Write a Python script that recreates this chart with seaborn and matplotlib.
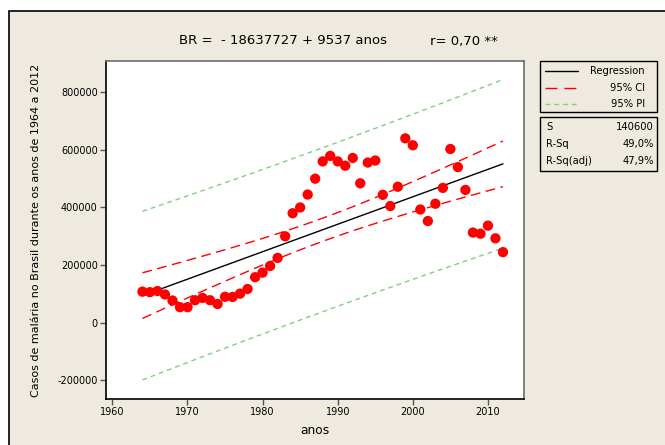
import numpy as np
import pandas as pd
import matplotlib
matplotlib.use("Agg")
import matplotlib.pyplot as plt
from matplotlib.patches import Rectangle
from matplotlib.lines import Line2D
from matplotlib import font_manager
import seaborn as sns

# ---- data ----
anos = list(range(1964, 2013))
casos = [108000, 106000, 110000, 98000, 77000, 54000, 54000, 78000, 86000, 78000,
         65000, 90000, 89500, 101000, 117000, 158000, 174000, 197000, 225000, 300000,
         380000, 400000, 445000, 500000, 560000, 579000, 560000, 545000, 572000, 484000,
         556000, 563000, 444000, 405000, 472000, 640000, 616000, 393000, 353000, 413000,
         468000, 603000, 540000, 461000, 313000, 309000, 337000, 293000, 245000]
title_left = "BR =  - 18637727 + 9537 anos"
title_right = "r= 0,70 **"
x_ticks = [1960, 1970, 1980, 1990, 2000, 2010]
y_ticks = [-200000, 0, 200000, 400000, 600000, 800000]
legend_labels = ["Regression", "95% CI", "95% PI"]
stat_names = ["S", "R-Sq", "R-Sq(adj)"]
stat_values = ["140600", "49,0%", "47,9%"]

df = pd.DataFrame({"anos": anos, "casos": casos})

# ---- regression, CI and PI computed from the data ----
x = np.array(anos, dtype=float)
y = np.array(casos, dtype=float)
n = len(x)
b1, b0 = np.polyfit(x, y, 1)
fit = b0 + b1 * x
s = np.sqrt(np.sum((y - fit) ** 2) / (n - 2))
sxx = np.sum((x - x.mean()) ** 2)
t = 2.0117
se_ci = s * np.sqrt(1 / n + (x - x.mean()) ** 2 / sxx)
se_pi = s * np.sqrt(1 + 1 / n + (x - x.mean()) ** 2 / sxx)

W, H = 665, 445
BG = "#EEEAE0"
sns.set_style("white")
plt.rcParams["font.family"] = ["DejaVu Sans"]
plt.rcParams["text.color"] = "black"
plt.rcParams["axes.labelcolor"] = "black"
plt.rcParams["xtick.color"] = "black"
plt.rcParams["ytick.color"] = "black"

names = {f.name for f in font_manager.fontManager.ttflist}
narrow = "Liberation Sans Narrow" if "Liberation Sans Narrow" in names else "DejaVu Sans"
title_size = 11 if narrow == "Liberation Sans Narrow" else 9.5

fig = plt.figure(figsize=(W / 100, H / 100), dpi=100)
fig.patch.set_facecolor("white")

def px(v):
    return v / W

def py(v):
    return 1 - v / H

# outer beige frame
fig.patches.append(Rectangle((px(9), -0.05), 1.2, py(11) + 0.05, transform=fig.transFigure,
                             facecolor=BG, edgecolor="black", lw=1.2, zorder=-5))

ax = fig.add_axes([px(106), py(399), px(524) - px(106), py(61) - py(399)])
ax.set_zorder(2)
ax.set_facecolor("white")

CI_DASH = (7, 4)
PI_DASH = (3.5, 2.8)
GREEN = "#80D080"
ax.plot(x, fit, color="black", lw=1.0, zorder=3)
ax.plot(x, fit + t * se_ci, color="#FF0000", lw=1.0, dashes=CI_DASH, zorder=3)
ax.plot(x, fit - t * se_ci, color="#FF0000", lw=1.0, dashes=CI_DASH, zorder=3)
ax.plot(x, fit + t * se_pi, color=GREEN, lw=1.0, dashes=PI_DASH, zorder=3)
ax.plot(x, fit - t * se_pi, color=GREEN, lw=1.0, dashes=PI_DASH, zorder=3)

sns.scatterplot(data=df, x="anos", y="casos", ax=ax, color="#FF0000", s=55,
                edgecolor="none", zorder=4, legend=False)

ax.set_xlim(1959.15, 2014.8)
ax.set_ylim(-264800, 908500)
ax.set_xticks(x_ticks)
ax.set_yticks(y_ticks)
ax.set_xticklabels([str(v) for v in x_ticks])
ax.set_yticklabels([str(v) for v in y_ticks])
ax.tick_params(axis="both", direction="out", length=4, width=1, color="#555555",
               labelcolor="black", labelsize=7, pad=2, left=True, bottom=True)
for side in ["left", "bottom"]:
    ax.spines[side].set_color("black")
    ax.spines[side].set_linewidth(1.2)
for side in ["top", "right"]:
    ax.spines[side].set_color("#6E6E6E")
    ax.spines[side].set_linewidth(1.2)

ax.set_xlabel("anos", fontsize=8.8, labelpad=5, color="black")
ax.set_ylabel("Casos de malária no Brasil durante os anos de 1964 a 2012", fontsize=8.0,
              color="black")
ax.yaxis.set_label_coords((41.5 - 106) / 418, 0.5)

fig.text(px(387), py(41), title_left, ha="right", va="center", fontsize=title_size,
         color="black", family=[narrow, "DejaVu Sans"])
fig.text(px(430), py(41), title_right, ha="left", va="center", fontsize=title_size,
         color="black", family=[narrow, "DejaVu Sans"])

# legend box
fig.patches.append(Rectangle((px(540), py(112)), px(657) - px(540), py(61) - py(112),
                             transform=fig.transFigure, facecolor=BG, edgecolor="black",
                             lw=1.0, zorder=1))
leg_styles = [dict(color="black"), dict(color="#FF0000", dashes=(8.6, 5)),
              dict(color=GREEN, dashes=PI_DASH)]
leg_x1 = [578, 576, 578]
leg_y = [70.7, 87.7, 104]
for lab, st, yy, x1 in zip(legend_labels, leg_styles, leg_y, leg_x1):
    fig.lines.append(Line2D([px(545), px(x1)], [py(yy), py(yy)], transform=fig.transFigure,
                            lw=1.0, zorder=2, **st))
    fig.text(px(645), py(yy), lab, ha="right", va="center", fontsize=7.2, color="black")

# stats box
fig.patches.append(Rectangle((px(540), py(171)), px(657) - px(540), py(117) - py(171),
                             transform=fig.transFigure, facecolor=BG, edgecolor="black",
                             lw=1.0, zorder=1))
stat_y = [126.7, 144.3, 161]
for nm, val, yy in zip(stat_names, stat_values, stat_y):
    fig.text(px(546), py(yy), nm, ha="left", va="center", fontsize=7.2, color="black")
    fig.text(px(654), py(yy), val, ha="right", va="center", fontsize=7.2, color="black")

fig.savefig("out.png", dpi=100, facecolor=fig.get_facecolor())
